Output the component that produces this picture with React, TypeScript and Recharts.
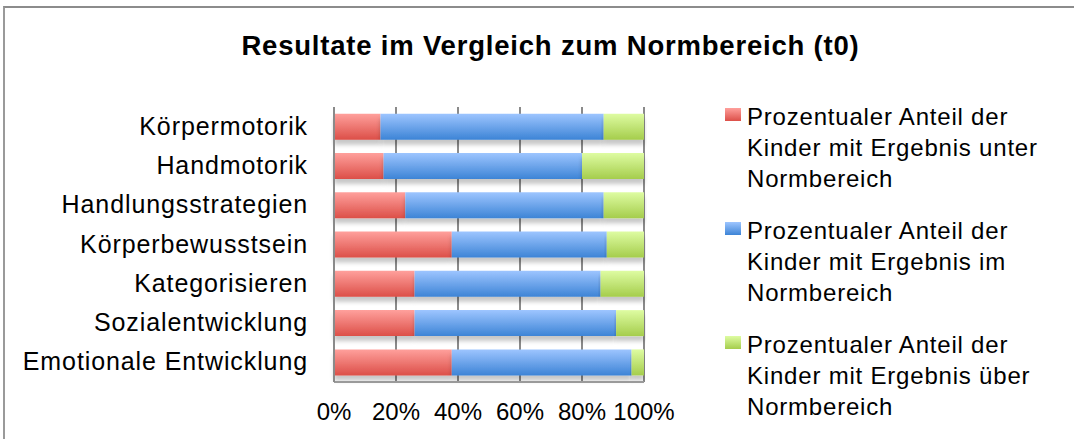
import React from "react";
import {
  BarChart,
  Bar,
  XAxis,
  YAxis,
  CartesianGrid,
} from "recharts";

const categories = [
  "Körpermotorik",
  "Handmotorik",
  "Handlungsstrategien",
  "Körperbewusstsein",
  "Kategorisieren",
  "Sozialentwicklung",
  "Emotionale Entwicklung",
];

// percentages per category
const belowNorm = [15, 16, 23, 38, 26, 26, 38];
const withinNorm = [72, 64, 64, 50, 60, 65, 58];
const aboveNorm = [13, 20, 13, 12, 14, 9, 4];

const xTicks = [0, 20, 40, 60, 80, 100];

const seriesNames = [
  "Prozentualer Anteil der Kinder mit Ergebnis unter Normbereich",
  "Prozentualer Anteil der Kinder mit Ergebnis im Normbereich",
  "Prozentualer Anteil der Kinder mit Ergebnis über Normbereich",
];

const gradients = [
  { id: "gRed", top: "#ffa09c", bottom: "#dc4f48" },
  { id: "gBlue", top: "#9dc5ff", bottom: "#3d84d6" },
  { id: "gGreen", top: "#defca2", bottom: "#a5cd4c" },
];

const data = categories.map((name, i) => ({
  name,
  below: belowNorm[i],
  within: withinNorm[i],
  above: aboveNorm[i],
}));

const FONT = '"Liberation Sans", Arial, Helvetica, sans-serif';

function CategoryTick({ x, y, payload }: any) {
  return (
    <text
      x={x}
      y={y}
      dy={8}
      textAnchor="end"
      fontSize={25}
      letterSpacing={0.9}
      fill="#000"
      fontFamily={FONT}
    >
      {payload.value}
    </text>
  );
}

function LegendBlock() {
  return (
    <div style={{ position: "absolute", left: 722, top: 101, width: 350 }}>
      {seriesNames.map((n, i) => (
        <div key={n} style={{ position: "relative", marginBottom: 21 }}>
          <div
            style={{
              position: "absolute",
              left: 3,
              top: 7,
              width: 16,
              height: 13,
              background: `linear-gradient(${gradients[i].top}, ${gradients[i].bottom})`,
            }}
          />
          <div
            style={{
              marginLeft: 25,
              width: 318,
              fontSize: 24,
              lineHeight: "31px",
              letterSpacing: 0.8,
              color: "#000",
            }}
          >
            {n}
          </div>
        </div>
      ))}
    </div>
  );
}

export default function App() {
  return (
    <div
      style={{
        position: "absolute",
        left: 0,
        top: 0,
        width: 1074,
        height: 439,
        background: "#fff",
        fontFamily: FONT,
        overflow: "hidden",
      }}
    >
      <div
        style={{
          position: "absolute",
          left: 3,
          top: 6,
          width: 1100,
          height: 500,
          borderTop: "2px solid #8c8c8c",
          borderLeft: "2px solid #9a9a9a",
        }}
      />
      <div
        style={{
          position: "absolute",
          left: 0,
          top: 32,
          width: 1101,
          textAlign: "center",
          fontSize: 27.5,
          lineHeight: "27.5px",
          letterSpacing: 0.8,
          fontWeight: "bold",
          color: "#000",
        }}
      >
        Resultate im Vergleich zum Normbereich (t0)
      </div>
      <div style={{ position: "absolute", left: 0, top: 0 }}>
        <BarChart
          width={1074}
          height={439}
          data={data}
          layout="vertical"
          margin={{ top: 107, right: 430, bottom: 0, left: 0 }}
          barCategoryGap="17%"
        >
          <defs>
            {gradients.map((g) => (
              <linearGradient key={g.id} id={g.id} x1="0" y1="0" x2="0" y2="1">
                <stop offset="0%" stopColor={g.top} />
                <stop offset="100%" stopColor={g.bottom} />
              </linearGradient>
            ))}
            <filter id="barShadow" x="-5%" y="-20%" width="110%" height="170%">
              <feDropShadow dx="0" dy="5" stdDeviation="2" floodColor="#000" floodOpacity="0.22" />
            </filter>
          </defs>
          <CartesianGrid horizontal={false} stroke="#8a8a8a" strokeWidth={2} />
          <XAxis
            type="number"
            domain={[0, 100]}
            ticks={xTicks}
            tickFormatter={(v: number) => `${v}%`}
            axisLine={{ stroke: "#9a9a9a", strokeWidth: 2 }}
            tickLine={false}
            tickSize={0}
            tickMargin={21}
            height={57}
            interval={0}
            tick={{ fontSize: 24, fill: "#000", fontFamily: FONT }}
          />
          <YAxis
            type="category"
            dataKey="name"
            width={334}
            axisLine={{ stroke: "#8a8a8a", strokeWidth: 2 }}
            tickLine={false}
            tickSize={0}
            tickMargin={26}
            interval={0}
            tick={<CategoryTick />}
          />
          <Bar dataKey="below" stackId="s" name={seriesNames[0]} fill="url(#gRed)" filter="url(#barShadow)" isAnimationActive={false} />
          <Bar dataKey="within" stackId="s" name={seriesNames[1]} fill="url(#gBlue)" filter="url(#barShadow)" isAnimationActive={false} />
          <Bar dataKey="above" stackId="s" name={seriesNames[2]} fill="url(#gGreen)" filter="url(#barShadow)" isAnimationActive={false} />
        </BarChart>
      </div>
      <LegendBlock />
    </div>
  );
}
